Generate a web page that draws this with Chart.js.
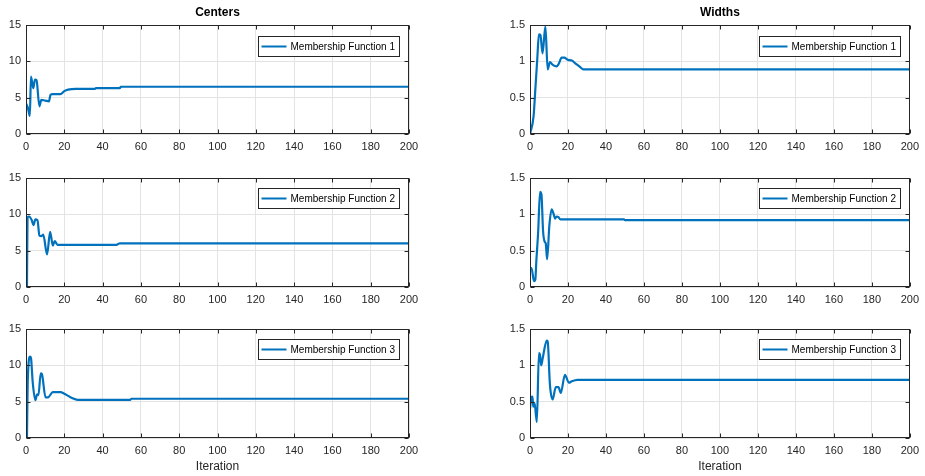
<!DOCTYPE html>
<html>
<head>
<meta charset="utf-8">
<script src="https://cdn.jsdelivr.net/npm/chart.js@4.4.1/dist/chart.umd.min.js"></script>
<style>
  body { margin: 0; background: #fff; width: 925px; height: 476px; position: relative; overflow: hidden; }
  canvas { position: absolute; }
</style>
</head>
<body>
<script>
// values (iteration, value)
const centers1Iter = [0, 1, 2, 2.6, 3.8, 4.7, 5.5, 7, 8, 10, 12, 12.8, 14, 18, 20, 22, 26, 36, 36.5, 49, 49.5, 200];
const centers1 = [4.2, 3.6, 2.5, 7.9, 6.3, 7.5, 7.4, 3.8, 4.7, 4.6, 4.5, 5.4, 5.5, 5.5, 5.9, 6.1, 6.2, 6.2, 6.3, 6.3, 6.5, 6.5];

const centers2Iter = [0.5, 0.8, 1.5, 3, 3.9, 4.9, 6, 7, 8, 9, 11, 12.6, 14, 15, 16.5, 18, 47, 48, 49, 200];
const centers2 = [0, 9.6, 9.7, 9.2, 8.5, 9.3, 9.2, 7.1, 7.0, 7.2, 4.5, 7.6, 5.7, 6.3, 5.8, 5.8, 5.8, 5.9, 6.0, 6.0];

const centers3Iter = [0.5, 0.9, 2.1, 2.6, 3.5, 4.9, 5.8, 6.5, 7.7, 8.3, 10.2, 11.5, 14, 18, 20, 22, 24, 27, 54.5, 55, 200];
const centers3 = [0, 7.7, 11.2, 11.0, 7.7, 5.2, 6.0, 5.9, 8.9, 8.8, 5.6, 5.6, 6.3, 6.3, 6.1, 5.8, 5.5, 5.25, 5.25, 5.4, 5.4];

const widths1Iter = [0, 1.9, 2.8, 3.8, 4.7, 5.5, 6.6, 8.1, 9.3, 10.5, 12, 14, 15, 16.7, 18, 20, 22, 24, 26, 28, 200];
const widths1 = [0, 0.25, 0.61, 1.02, 1.37, 1.36, 1.11, 1.48, 0.89, 0.99, 0.95, 0.93, 0.96, 1.05, 1.05, 1.02, 1.01, 0.97, 0.93, 0.89, 0.89];

const widths2Iter = [0, 0.8, 2.1, 2.8, 3.3, 4.3, 5.3, 6, 6.9, 7.8, 8.3, 9, 10.2, 11.4, 12.5, 13.2, 14, 15, 16, 49.5, 50, 200];
const widths2 = [0.26, 0.26, 0.08, 0.1, 0.34, 0.76, 1.31, 1.28, 0.76, 0.62, 0.6, 0.38, 0.85, 1.07, 1.0, 0.94, 0.97, 0.96, 0.93, 0.93, 0.92, 0.92];

const widths3Iter = [0, 0.7, 1.3, 1.7, 2.4, 3.6, 4.7, 5.2, 5.9, 6.7, 8.8, 9.3, 10.5, 11.9, 13.6, 15, 16.2, 18.4, 20.5, 22, 25, 200];
const widths3 = [0.4, 0.56, 0.57, 0.43, 0.48, 0.22, 1.17, 1.15, 1.0, 1.1, 1.34, 1.33, 0.73, 0.53, 0.70, 0.70, 0.62, 0.87, 0.76, 0.78, 0.80, 0.80];

const legendNames = ['Membership Function 1', 'Membership Function 2', 'Membership Function 3'];
const columnTitles = ['Centers', 'Widths'];
const xLabel = 'Iteration';

const FONT = '"Liberation Sans", Arial, Helvetica, sans-serif';
const LINE_COLOR = '#0072BD';
const AXIS_COLOR = '#262626';

// plot area geometry (px in the page)
const cols = [
  { canvasLeft: 0, canvasWidth: 460, areaLeft: 26, areaRight: 409, yMax: 15, yStep: 5 },
  { canvasLeft: 495, canvasWidth: 430, areaLeft: 530, areaRight: 914, yMax: 1.5, yStep: 0.5 }
];
const rowTops = [25, 178, 329];
const AREA_H = 109;

const panels = [
  { col: 0, row: 0, iter: centers1Iter, vals: centers1 },
  { col: 0, row: 1, iter: centers2Iter, vals: centers2 },
  { col: 0, row: 2, iter: centers3Iter, vals: centers3 },
  { col: 1, row: 0, iter: widths1Iter, vals: widths1 },
  { col: 1, row: 1, iter: widths2Iter, vals: widths2 },
  { col: 1, row: 2, iter: widths3Iter, vals: widths3 }
];

// box, inward ticks, title and legend like a matlab axes
const matlabAxes = {
  id: 'matlabAxes',
  afterDraw(chart, args, opts) {
    const ctx = chart.ctx;
    const a = chart.chartArea;
    const xs = chart.scales.x, ys = chart.scales.y;
    const L = Math.round(a.left) + 0.5, R = Math.round(a.right) - 0.5;
    const T = Math.round(a.top) + 0.5, B = Math.round(a.bottom) - 0.5;
    ctx.save();
    ctx.strokeStyle = AXIS_COLOR;
    ctx.lineWidth = 1;
    ctx.beginPath();
    xs.ticks.forEach(t => {
      const px = Math.round(xs.getPixelForValue(t.value)) + 0.5;
      ctx.moveTo(px, B); ctx.lineTo(px, B - 4);
      ctx.moveTo(px, T); ctx.lineTo(px, T + 4);
    });
    ys.ticks.forEach(t => {
      const py = Math.round(ys.getPixelForValue(t.value)) + 0.5;
      ctx.moveTo(L, py); ctx.lineTo(L + 4, py);
      ctx.moveTo(R, py); ctx.lineTo(R - 4, py);
    });
    ctx.stroke();
    ctx.strokeRect(L, T, R - L, B - T);

    if (opts.title) {
      ctx.fillStyle = '#000';
      ctx.font = 'bold 12px ' + FONT;
      ctx.textAlign = 'center';
      ctx.textBaseline = 'middle';
      ctx.fillText(opts.title, (a.left + a.right) / 2, a.top - 12);
    }

    // legend
    const label = chart.data.datasets[0].label;
    ctx.font = '10px ' + FONT;
    const tw = ctx.measureText(label).width;
    const bw = Math.round(3 + 25 + 4 + tw + 5);
    const bh = 20;
    const bx = Math.round(a.right - 10 - bw) + 0.5;
    const by = Math.round(a.top + opts.legendTop) + 0.5;
    ctx.fillStyle = '#fff';
    ctx.fillRect(bx, by, bw, bh);
    ctx.strokeStyle = AXIS_COLOR;
    ctx.strokeRect(bx, by, bw, bh);
    ctx.strokeStyle = LINE_COLOR;
    ctx.lineWidth = 2;
    ctx.beginPath();
    ctx.moveTo(bx + 3, by + bh / 2);
    ctx.lineTo(bx + 28, by + bh / 2);
    ctx.stroke();
    ctx.fillStyle = '#000';
    ctx.textAlign = 'left';
    ctx.textBaseline = 'middle';
    ctx.fillText(label, bx + 32, by + bh / 2 + 0.5);
    ctx.restore();
  }
};

panels.forEach(function(p) {
  const c = cols[p.col];
  const padTop = p.row === 0 ? 25 : 18;
  const xh = p.row === 2 ? 36 : 22;
  const top = rowTops[p.row] - padTop;
  const h = padTop + AREA_H + xh;

  const canvas = document.createElement('canvas');
  canvas.width = c.canvasWidth;
  canvas.height = h;
  canvas.style.left = c.canvasLeft + 'px';
  canvas.style.top = top + 'px';
  canvas.style.width = c.canvasWidth + 'px';
  canvas.style.height = h + 'px';
  document.body.appendChild(canvas);

  new Chart(canvas.getContext('2d'), {
    type: 'line',
    data: {
      datasets: [{
        label: legendNames[p.row],
        data: p.iter.map((x, i) => ({ x: x, y: p.vals[i] })),
        borderColor: LINE_COLOR,
        backgroundColor: LINE_COLOR,
        borderWidth: 2.2,
        pointRadius: 0,
        fill: false,
        cubicInterpolationMode: 'monotone'
      }]
    },
    options: {
      responsive: false,
      animation: false,
      devicePixelRatio: 1,
      layout: {
        padding: { top: padTop, right: c.canvasLeft + c.canvasWidth - c.areaRight, bottom: 0, left: 0 }
      },
      plugins: {
        legend: { display: false },
        tooltip: { enabled: false },
        matlabAxes: { title: p.row === 0 ? columnTitles[p.col] : '', legendTop: p.row === 0 ? 11 : 10 }
      },
      scales: {
        x: {
          type: 'linear',
          min: 0, max: 200,
          ticks: { stepSize: 20, color: AXIS_COLOR, font: { family: FONT, size: 11 }, padding: 6, maxRotation: 0 },
          grid: { color: '#e3e3e3', drawTicks: false },
          border: { display: false },
          title: {
            display: p.row === 2, text: xLabel, color: AXIS_COLOR,
            font: { family: FONT, size: 12 }, padding: { top: 0, bottom: 0 }
          },
          afterFit: function(s) { s.height = xh; }
        },
        y: {
          min: 0, max: c.yMax,
          ticks: {
            stepSize: c.yStep, color: AXIS_COLOR, font: { family: FONT, size: 11 }, padding: 5,
            callback: v => String(v)
          },
          grid: { color: '#e3e3e3', drawTicks: false },
          border: { display: false },
          afterFit: function(s) { s.width = c.areaLeft - c.canvasLeft; }
        }
      }
    },
    plugins: [matlabAxes]
  });
});
</script>
</body>
</html>
